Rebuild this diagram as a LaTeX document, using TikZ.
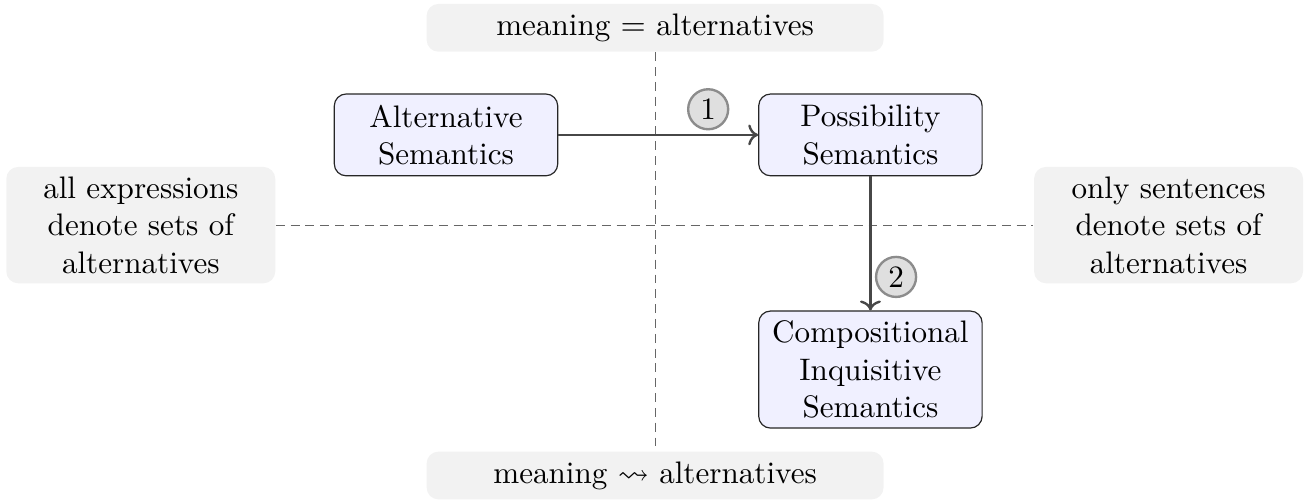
\documentclass[tikz,border=0pt]{standalone}
\usepackage{amsmath,amssymb}
\usepackage{tikz}
\usetikzlibrary{arrows.meta,positioning}

\begin{document}
\begin{tikzpicture}[
    font=\fontsize{10.5pt}{12.6pt}\selectfont,
    node distance=1.6cm and 2.4cm,
    theory/.style={draw=black!85, fill=blue!6, rounded corners=4pt,
                   minimum width=2.65cm, minimum height=0.97cm, align=center},
    side/.style={fill=gray!10, rounded corners=4pt, align=center},
    axis/.style={black!60, dash pattern=on 3pt off 2pt},
    arrow/.style={->, thick, color=black!72},
    num/.style={circle, draw=black!45, fill=gray!25, text=black, thick, inner sep=1.7pt},
]
    \useasboundingbox (-7.77,-3.25) rectangle (7.72,2.67);

    \node[side, minimum width=5.42cm] (top) at (0,2.34)  {meaning $=$ alternatives};
    \node[side, minimum width=5.42cm] (bot) at (0,-2.97) {meaning $\leadsto$ alternatives};
    \node[side, minimum width=3.19cm] (all)  at (-6.10,0) {all expressions\\denote sets of\\alternatives};
    \node[side, minimum width=3.19cm] (only) at (6.09,0)  {only sentences\\denote sets of\\alternatives};

    \draw[axis] (top) -- (bot);
    \draw[axis] (all) -- (only);

    \node[theory] (alt) at (-2.48,1.07) {Alternative\\Semantics};
    \node[theory, right=2.37cm of alt]  (poss) {Possibility\\Semantics};
    \node[theory, below=1.59cm of poss] (comp) {Compositional\\Inquisitive\\Semantics};

    \draw[arrow] (alt)  -- node[num, pos=0.75, above=1.5pt] (one) {1} (poss);
    \draw[arrow] (poss) -- node[num, pos=0.75, right=1.5pt] (two) {2} (comp);
\end{tikzpicture}
\end{document}
